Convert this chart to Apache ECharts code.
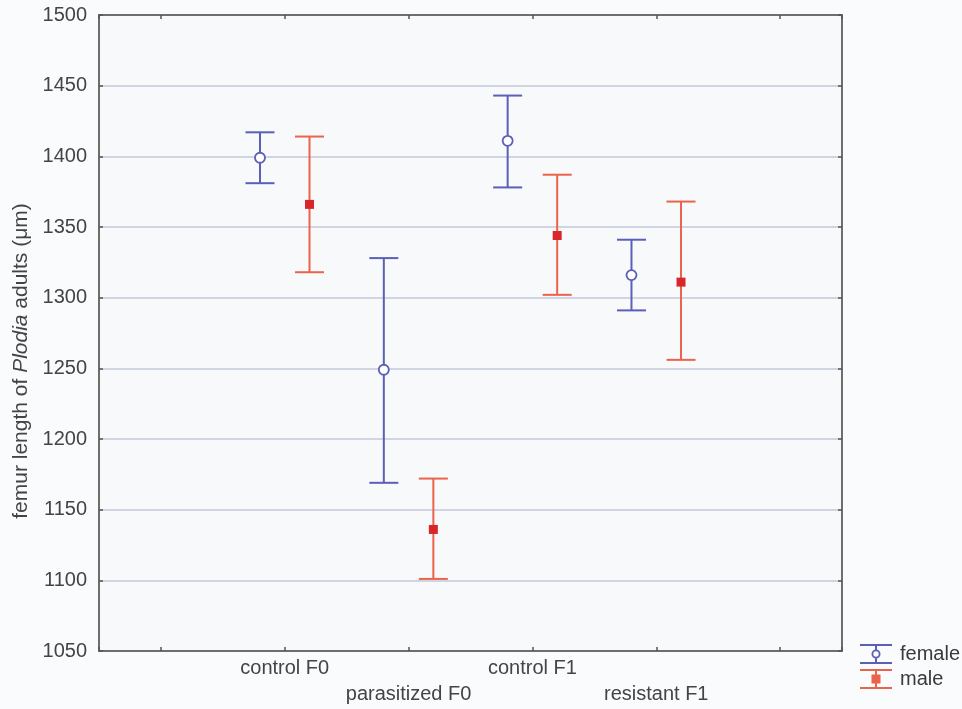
<!DOCTYPE html>
<html>
<head>
<meta charset="utf-8">
<script src="https://cdn.jsdelivr.net/npm/echarts@6/dist/echarts.min.js"></script>
<style>
  html, body { margin: 0; padding: 0; background: #fafbfc; }
  #chart { width: 962px; height: 709px; }
</style>
</head>
<body>
<div id="chart"></div>
<script>
// ---- data ----
var categories = ['control F0', 'parasitized F0', 'control F1', 'resistant F1'];
var categoryPositions = [2, 3, 4, 5];
var femaleMean = [1399, 1249, 1411, 1316];
var femaleLow  = [1381, 1169, 1378, 1291];
var femaleHigh = [1417, 1328, 1443, 1341];
var maleMean = [1366, 1136, 1344, 1311];
var maleLow  = [1318, 1101, 1302, 1256];
var maleHigh = [1414, 1172, 1387, 1368];
var yTicks = [1050, 1100, 1150, 1200, 1250, 1300, 1350, 1400, 1450, 1500];

var OFFSET = 0.2;
var FEMALE_COLOR = '#5a5fb8';
var MALE_LINE = '#eb634b';
var MALE_MARK = '#d9262b';
var FONT = 'Liberation Sans';

function barData(pos, low, high, off) {
  return pos.map(function (p, i) { return [p + off, low[i], high[i]]; });
}
function meanData(pos, mean, off) {
  return pos.map(function (p, i) { return [p + off, mean[i]]; });
}

function errorBarRenderer(color) {
  return function (params, api) {
    var x = api.value(0);
    var lo = api.coord([x, api.value(1)]);
    var hi = api.coord([x, api.value(2)]);
    var half = 14.5;
    var style = { stroke: color, lineWidth: 2, fill: null };
    return {
      type: 'group',
      children: [
        { type: 'line', shape: { x1: hi[0], y1: hi[1], x2: lo[0], y2: lo[1] }, style: style },
        { type: 'line', shape: { x1: hi[0] - half, y1: hi[1], x2: hi[0] + half, y2: hi[1] }, style: style },
        { type: 'line', shape: { x1: lo[0] - half, y1: lo[1], x2: lo[0] + half, y2: lo[1] }, style: style }
      ]
    };
  };
}

var femaleIcon = 'path://M0,0H32V2H0Z M15,2H17V6H15Z M15,14H17V18H15Z M0,18H32V20H0Z ' +
  'M16,5.5A4.5,4.5 0 1,1 16,14.5A4.5,4.5 0 1,1 16,5.5Z M16,7.3A2.7,2.7 0 1,0 16,12.7A2.7,2.7 0 1,0 16,7.3Z';
var maleIcon = 'path://M0,0H32V2H0Z M15,2H17V18H15Z M11.5,5.5H20.5V14.5H11.5Z M0,18H32V20H0Z';

var chart = echarts.init(document.getElementById('chart'));
var axisLineStyle = { color: '#6e6e6e', width: 2 };

chart.setOption({
  backgroundColor: '#fafbfc',
  animation: false,
  textStyle: { fontFamily: FONT },
  grid: { left: 99, right: 120, top: 15, bottom: 58, show: true, backgroundColor: '#f8f9fb', borderWidth: 0 },
  legend: {
    orient: 'vertical',
    left: 860,
    top: 644,
    padding: 0,
    itemWidth: 32,
    itemHeight: 21,
    itemGap: 5,
    itemStyle: { borderWidth: 0 },
    textStyle: { fontFamily: FONT, fontSize: 20, color: '#3a3a3a', padding: [0, 0, 0, 3] },
    data: [
      { name: 'female', icon: femaleIcon, itemStyle: { color: FEMALE_COLOR } },
      { name: 'male', icon: maleIcon, itemStyle: { color: MALE_LINE } }
    ]
  },
  xAxis: [
    {
      type: 'value',
      position: 'bottom',
      min: 0.5,
      max: 6.5,
      splitNumber: 6,
      axisLine: { show: true, onZero: false, lineStyle: axisLineStyle },
      axisTick: { show: true, inside: true, length: 4, lineStyle: { color: '#555', width: 1.5 } },
      splitLine: { show: false },
      axisLabel: {
        show: true,
        margin: 4,
        fontFamily: FONT,
        fontSize: 20,
        lineHeight: 26,
        color: '#444',
        formatter: function (v) {
          var i = categoryPositions.indexOf(Math.round(v * 100) / 100);
          if (i < 0) return '';
          return (i % 2 === 1 ? '\n' : '') + categories[i];
        }
      }
    },
    {
      type: 'value',
      position: 'top',
      min: 0.5,
      max: 6.5,
      splitNumber: 6,
      axisLine: { show: true, onZero: false, lineStyle: axisLineStyle },
      axisTick: { show: true, inside: true, length: 4, lineStyle: { color: '#555', width: 1.5 } },
      splitLine: { show: false },
      axisLabel: { show: false }
    }
  ],
  yAxis: [
    {
      type: 'value',
      position: 'left',
      min: yTicks[0],
      max: yTicks[yTicks.length - 1],
      interval: 50,
      name: 'femur length of {i|Plodia} adults (μm)',
      nameLocation: 'middle',
      nameRotate: 90,
      nameGap: 64,
      nameTextStyle: {
        fontFamily: FONT,
        fontSize: 21,
        color: '#444',
        padding: [0, 56, 0, 0],
        rich: { i: { fontFamily: FONT, fontSize: 21, fontStyle: 'italic', color: '#444' } }
      },
      axisLine: { show: true, onZero: false, lineStyle: axisLineStyle },
      axisTick: { show: true, inside: true, length: 4, lineStyle: { color: '#555', width: 1.5 } },
      splitLine: { show: true, lineStyle: { color: '#c3c8dc', width: 1.5 } },
      axisLabel: {
        margin: 12, fontFamily: FONT, fontSize: 20, color: '#444',
        formatter: function (v) { return String(v); }
      }
    },
    {
      type: 'value',
      position: 'right',
      min: yTicks[0],
      max: yTicks[yTicks.length - 1],
      interval: 50,
      axisLine: { show: true, onZero: false, lineStyle: axisLineStyle },
      axisTick: { show: true, inside: true, length: 4, lineStyle: { color: '#555', width: 1.5 } },
      splitLine: { show: false },
      axisLabel: { show: false }
    }
  ],
  series: [
    {
      name: 'female',
      type: 'custom',
      xAxisIndex: 0,
      yAxisIndex: 0,
      itemStyle: { color: FEMALE_COLOR },
      renderItem: errorBarRenderer(FEMALE_COLOR),
      encode: { x: 0, y: [1, 2] },
      data: barData(categoryPositions, femaleLow, femaleHigh, -OFFSET),
      z: 3
    },
    {
      name: 'male',
      type: 'custom',
      xAxisIndex: 0,
      yAxisIndex: 0,
      itemStyle: { color: MALE_LINE },
      renderItem: errorBarRenderer(MALE_LINE),
      encode: { x: 0, y: [1, 2] },
      data: barData(categoryPositions, maleLow, maleHigh, OFFSET),
      z: 3
    },
    {
      name: 'female',
      type: 'scatter',
      symbol: 'circle',
      symbolSize: 10,
      itemStyle: { color: '#ffffff', borderColor: FEMALE_COLOR, borderWidth: 1.8, opacity: 1 },
      data: meanData(categoryPositions, femaleMean, -OFFSET),
      z: 5
    },
    {
      name: 'male',
      type: 'scatter',
      symbol: 'rect',
      symbolSize: 9,
      itemStyle: { color: MALE_MARK, opacity: 1 },
      data: meanData(categoryPositions, maleMean, OFFSET),
      z: 5
    }
  ]
});
</script>
</body>
</html>
